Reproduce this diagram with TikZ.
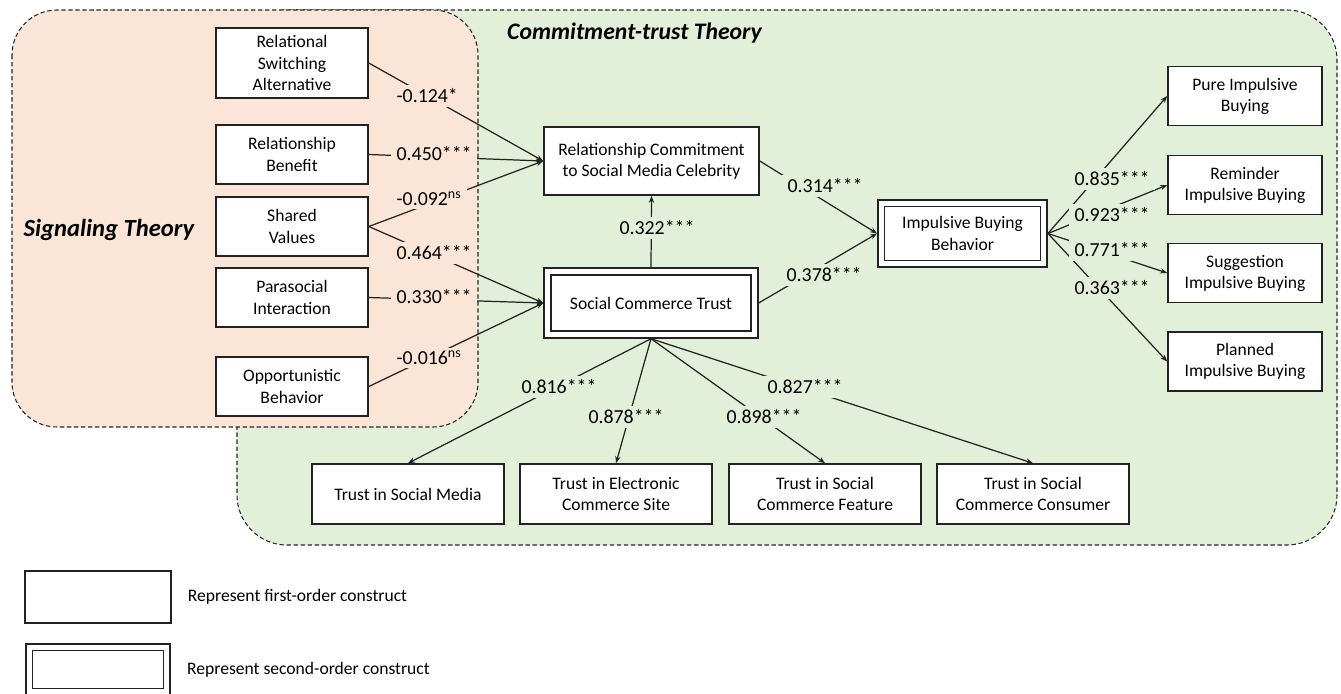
\documentclass[tikz,border=0pt]{standalone}
\usepackage{fontspec}
\setmainfont{Carlito}
\usetikzlibrary{arrows.meta,positioning}
\definecolor{signalpink}{HTML}{FBE5D6}
\definecolor{trustgreen}{HTML}{E2F0D9}
\definecolor{boxline}{HTML}{222222}

\begin{document}
\begin{tikzpicture}[x=0.02cm, y=-0.02cm, >={Stealth[length=4pt,width=3pt]},
		construct/.style={rectangle, draw=boxline, line width=0.9pt, fill=white, align=center, inner sep=1pt, font=\fontsize{10}{12}\selectfont},
		second/.style={construct, double=white, double distance=3pt, outer sep=2.4pt},
		coef/.style={inner xsep=3pt, inner ysep=2pt, font=\fontsize{11.3}{13}\selectfont},
		link/.style={draw=boxline, line width=0.7pt},
		theory/.style={draw=black!85, line width=0.6pt, dash pattern=on 2.5pt off 1.5pt},
		theorytitle/.style={font=\bfseries\itshape\fontsize{13.5}{16}\selectfont}]
		\clip (0,0) rectangle (1341,693);
		
		% theory regions
		\draw[theory, fill=trustgreen, rounded corners=1cm] (237,10) rectangle (1337,545);
		\draw[theory, fill=signalpink, rounded corners=0.9cm] (12,10) rectangle (478,427);
		\node (ctt) [theorytitle, anchor=west] at (501,33) {Commitment-trust Theory};
		\node (st) [theorytitle, font=\bfseries\itshape\fontsize{14}{16}\selectfont] at (109,230) {Signaling Theory};
		
		% antecedents
		\node (rsa) [construct, minimum width=3.04cm, minimum height=1.4cm] at (292,63) {Relational\\Switching\\Alternative};
		\node (rb) [construct, minimum width=3.04cm, minimum height=1.18cm] at (292,154.5) {Relationship\\Benefit};
		\node (sv) [construct, minimum width=3.04cm, minimum height=1.18cm] at (292,226.5) {Shared\\Values};
		\node (pi) [construct, minimum width=3.04cm, minimum height=1.18cm] at (292,297.5) {Parasocial\\Interaction};
		\node (ob) [construct, minimum width=3.04cm, minimum height=1.18cm] at (292,386.5) {Opportunistic\\Behavior};
		
		% mediators and outcome
		\node (rc) [construct, minimum width=4.3cm, minimum height=1.36cm] at (651.5,161) {Relationship Commitment\\to Social Media Celebrity};
		\node (sct) [second, minimum width=4.14cm, minimum height=1.26cm] at (651,303) {Social Commerce Trust};
		\node (ibb) [second, minimum width=3.25cm, minimum height=1.21cm] at (962.5,233.5) {Impulsive Buying\\Behavior};
		
		\node (pib) [construct, minimum width=3.08cm, minimum height=1.18cm] at (1245,96) {Pure Impulsive\\Buying};
		\node (rib) [construct, minimum width=3.08cm, minimum height=1.18cm] at (1245,185) {Reminder\\Impulsive Buying};
		\node (sib) [construct, minimum width=3.08cm, minimum height=1.18cm] at (1245,273) {Suggestion\\Impulsive Buying};
		\node (plib) [construct, minimum width=3.08cm, minimum height=1.18cm] at (1245,361.5) {Planned\\Impulsive Buying};
		
		\node (tsm) [construct, minimum width=3.84cm, minimum height=1.2cm] at (408,494) {Trust in Social Media};
		\node (tecs) [construct, minimum width=3.84cm, minimum height=1.2cm] at (616,494) {Trust in Electronic\\Commerce Site};
		\node (tscf) [construct, minimum width=3.84cm, minimum height=1.2cm] at (825,494) {Trust in Social\\Commerce Feature};
		\node (tscc) [construct, minimum width=3.84cm, minimum height=1.2cm] at (1033,494) {Trust in Social\\Commerce Consumer};
		
		% paths
		\draw[->, link] (rsa.east) -- (rc.west);
		\draw[->, link] (rb.east) -- (rc.west);
		\draw[->, link] (sv.east) -- (rc.west);
		\draw[->, link] (sv.east) -- (sct.west);
		\draw[->, link] (pi.east) -- (sct.west);
		\draw[->, link] (ob.east) -- (sct.west);
		\draw[->, link] (sct.north) -- (rc.south);
		\draw[->, link] (rc.east) -- (ibb.west);
		\draw[->, link] (sct.east) -- (ibb.west);
		\draw[->, link] (ibb.east) -- (pib.west);
		\draw[->, link] (ibb.east) -- (rib.west);
		\draw[->, link] (ibb.east) -- (sib.west);
		\draw[->, link] (ibb.east) -- (plib.west);
		\draw[->, link] (sct.south) -- (tsm.north);
		\draw[->, link] (sct.south) -- (tecs.north);
		\draw[->, link] (sct.south) -- (tscf.north);
		\draw[->, link] (sct.south) -- (tscc.north);
		
		% coefficients
		\node (c124) [coef, fill=signalpink, anchor=west] at (391,96) {-0.124*};
		\node (c450) [coef, fill=signalpink, anchor=west] at (391,154) {0.450***};
		\node (c092) [coef, fill=signalpink, anchor=west] at (391,199) {-0.092\textsuperscript{ns}};
		\node (c464) [coef, fill=signalpink, anchor=west] at (391,253) {0.464***};
		\node (c330) [coef, fill=signalpink, anchor=west] at (391,297) {0.330***};
		\node (c016) [coef, fill=signalpink, anchor=west] at (391,358) {-0.016\textsuperscript{ns}};
		\node (c322) [coef, fill=trustgreen] at (657,228) {0.322***};
		\node (c314) [coef, fill=trustgreen, anchor=west] at (782,186) {0.314***};
		\node (c378) [coef, fill=trustgreen, anchor=west] at (781,275) {0.378***};
		\node (c835) [coef, fill=trustgreen, anchor=west] at (1069,179) {0.835***};
		\node (c923) [coef, fill=trustgreen, anchor=west] at (1069,215) {0.923***};
		\node (c771) [coef, fill=trustgreen, anchor=west] at (1069,250) {0.771***};
		\node (c363) [coef, fill=trustgreen, anchor=west] at (1069,288) {0.363***};
		\node (c816) [coef, fill=trustgreen] at (559,387) {0.816***};
		\node (c878) [coef, fill=trustgreen] at (626,417) {0.878***};
		\node (c898) [coef, fill=trustgreen] at (764,417) {0.898***};
		\node (c827) [coef, fill=trustgreen] at (805,387) {0.827***};
		
		% legend
		\node (lgfirst) [construct, minimum width=2.92cm, minimum height=1.04cm] at (98,597) {};
		\node (lgsecond) [second, minimum width=2.75cm, minimum height=0.89cm] at (98,669.5) {};
		\node [right=0.2cm of lgfirst, font=\fontsize{10}{12}\selectfont] {Represent first-order construct};
		\node [right=0.2cm of lgsecond, font=\fontsize{10}{12}\selectfont] {Represent second-order construct};
	\end{tikzpicture}
\end{document}
